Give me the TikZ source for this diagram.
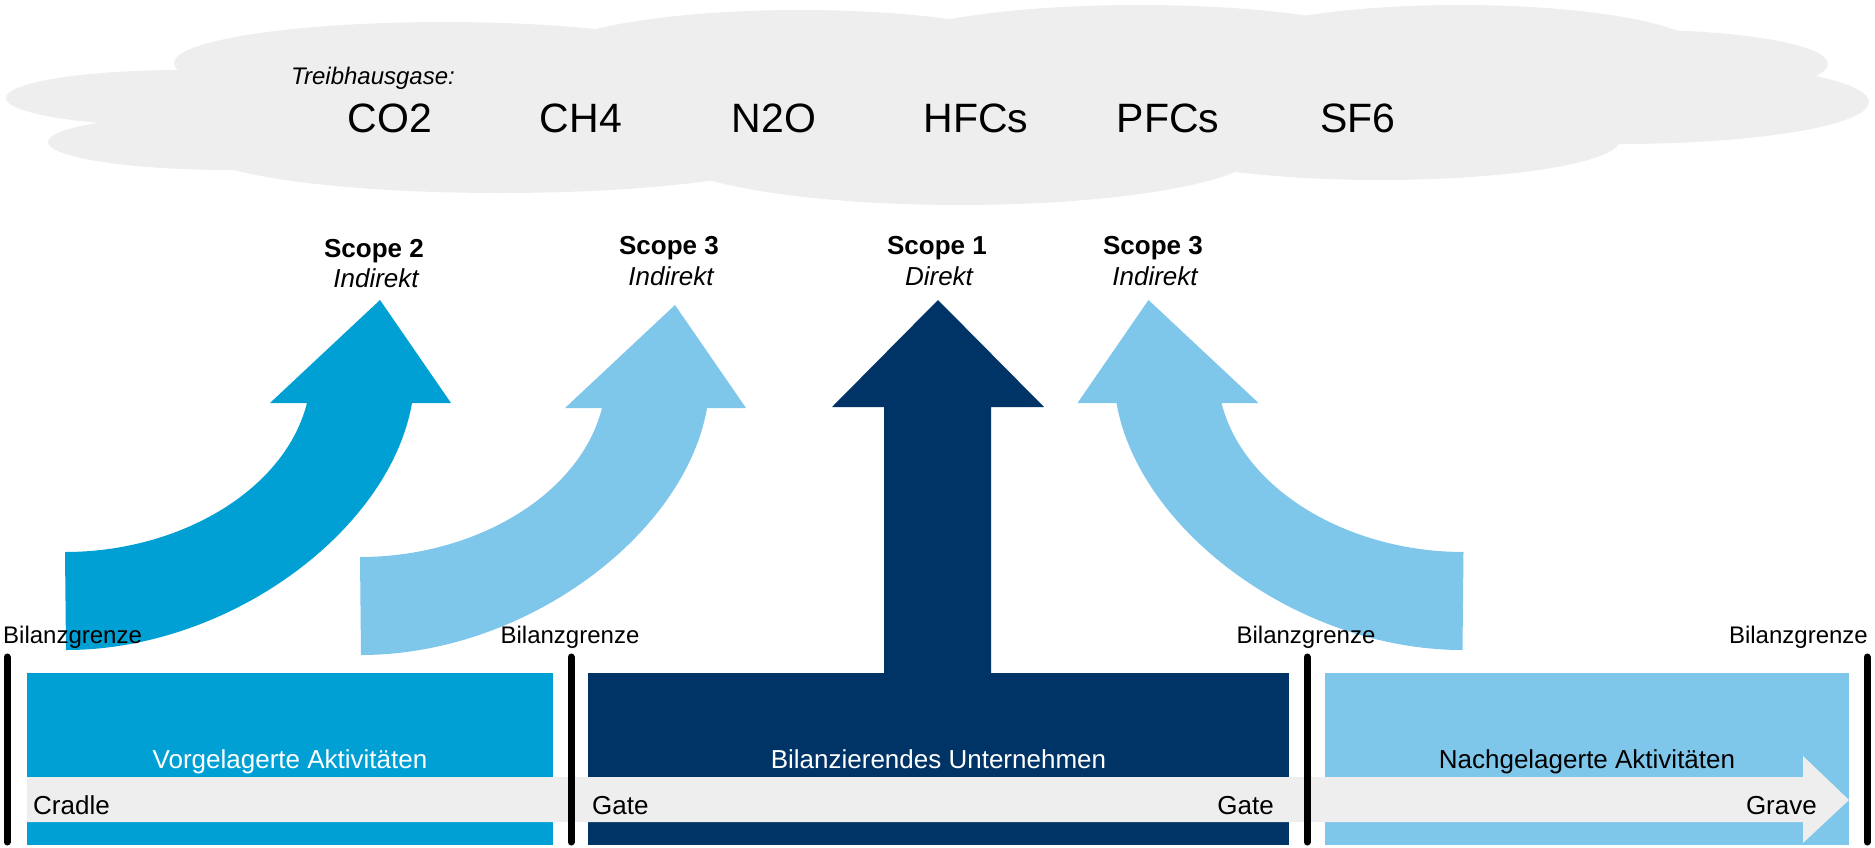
\documentclass[tikz,border=0pt]{standalone}
\usepackage{fontspec}
\setmainfont{Liberation Sans}
\newcommand\setfs[1]{\fontsize{#1}{#1}\selectfont}
\definecolor{cloudgray}{HTML}{EEEEEE}
\definecolor{midblue}{HTML}{009FD4}
\definecolor{lightblue}{HTML}{7FC7EA}
\definecolor{navy}{HTML}{003366}
\begin{document}
\begin{tikzpicture}[x=1pt,y=-1pt,
  txt/.style={inner sep=0pt, anchor=base},
  gas/.style={txt, font=\setfs{41}},
  scopetitle/.style={txt, font=\setfs{26}\bfseries},
  scopesub/.style={txt, font=\setfs{26}\itshape},
  grenze/.style={txt, font=\setfs{24}},
  boxlabel/.style={txt, font=\setfs{26}},
  bandlabel/.style={txt, font=\setfs{26}},
  boundary/.style={line width=7pt, line cap=round, black}]
\useasboundingbox (0,0) rectangle (1875,847);
% cloud
\begin{scope}[cloudgray]
\fill (180,98) ellipse [x radius=174pt, y radius=28pt];
\fill (230,142) ellipse [x radius=182pt, y radius=28pt];
\fill (444,63) ellipse [x radius=270pt, y radius=41pt];
\fill (800,60) ellipse [x radius=260pt, y radius=50pt];
\fill (1139,50) ellipse [x radius=260pt, y radius=45pt];
\fill (1460,50) ellipse [x radius=240pt, y radius=45pt];
\fill (1640,64) ellipse [x radius=188pt, y radius=34pt];
\fill (1620,102) ellipse [x radius=249pt, y radius=42pt];
\fill (1380,140) ellipse [x radius=240pt, y radius=40pt];
\fill (960,150) ellipse [x radius=300pt, y radius=55pt];
\fill (500,150) ellipse [x radius=300pt, y radius=43pt];
\fill (190,65) rectangle (1600,145);
\end{scope}
\node[txt, anchor=base west, font=\setfs{24}\itshape] (tg) at (291,84) {Treibhausgase:};
\node[gas] (co2) at (390,132) {CO2};
\node[gas] (ch4) at (581,132) {CH4};
\node[gas] (n2o) at (774,132) {N2O};
\node[gas] (hfc) at (976,132) {HFCs};
\node[gas] (pfc) at (1168,132) {PFCs};
\node[gas] (sf6) at (1358,132) {SF6};
% curved arrows
\newcommand\curvedarrow{(380,300) -- (451,403) -- (412,403)
  .. controls (390,530) and (230,650) .. (66,650) -- (65,552)
  .. controls (180,552) and (285,490) .. (307,403) -- (270,403) -- cycle}
\fill[midblue] \curvedarrow;
\begin{scope}[shift={(295,5)}]
\fill[lightblue] \curvedarrow;
\end{scope}
\begin{scope}[xshift=1528.5pt, xscale=-1]
\fill[lightblue] \curvedarrow;
\end{scope}
% straight arrow
\fill[navy] (938,300) -- (1044,407) -- (991,407) -- (991,680) -- (884,680) -- (884,407) -- (832,407) -- cycle;
% scope labels
\node[scopetitle] (s2) at (374,257) {Scope 2};
\node[scopesub] (s2i) at (376,287) {Indirekt};
\node[scopetitle] (s3a) at (669,254) {Scope 3};
\node[scopesub] (s3ai) at (671,285) {Indirekt};
\node[scopetitle] (s1) at (937,254) {Scope 1};
\node[scopesub] (s1d) at (939,285) {Direkt};
\node[scopetitle] (s3b) at (1153,254) {Scope 3};
\node[scopesub] (s3bi) at (1155,285) {Indirekt};
% boxes
\fill[midblue] (27,673) rectangle (553,845);
\fill[navy] (588,673) rectangle (1289,845);
\fill[lightblue] (1325,673) rectangle (1849,845);
\node[boxlabel, white] (vor) at (290,768) {Vorgelagerte Aktivitäten};
\node[boxlabel, white] (bil) at (938.5,768) {Bilanzierendes Unternehmen};
\node[boxlabel, black] (nach) at (1587,768) {Nachgelagerte Aktivitäten};
% band arrow
\fill[cloudgray] (27,777) -- (1803,777) -- (1803,756) -- (1849,800) -- (1803,843) -- (1803,822) -- (27,822) -- cycle;
\node[bandlabel, anchor=base west] (cradle) at (33,814) {Cradle};
\node[bandlabel, anchor=base west] (gate1) at (592,814) {Gate};
\node[bandlabel, anchor=base east] (gate2) at (1274,814) {Gate};
\node[bandlabel, anchor=base east] (grave) at (1817,814) {Grave};
% boundaries
\coordinate (b1t) at (7,657); \coordinate (b1b) at (7,842);
\coordinate (b2t) at (571,657); \coordinate (b2b) at (571,842);
\coordinate (b3t) at (1307,657); \coordinate (b3b) at (1307,842);
\coordinate (b4t) at (1867,657); \coordinate (b4b) at (1867,842);
\draw[boundary] (b1t) -- (b1b);
\draw[boundary] (b2t) -- (b2b);
\draw[boundary] (b3t) -- (b3b);
\draw[boundary] (b4t) -- (b4b);
\node[grenze, anchor=base west] (g1) at (3,643) {Bilanzgrenze};
\node[grenze] (g2) at (570,643) {Bilanzgrenze};
\node[grenze] (g3) at (1306,643) {Bilanzgrenze};
\node[grenze, anchor=base east] (g4) at (1868,643) {Bilanzgrenze};
\end{tikzpicture}
\end{document}
